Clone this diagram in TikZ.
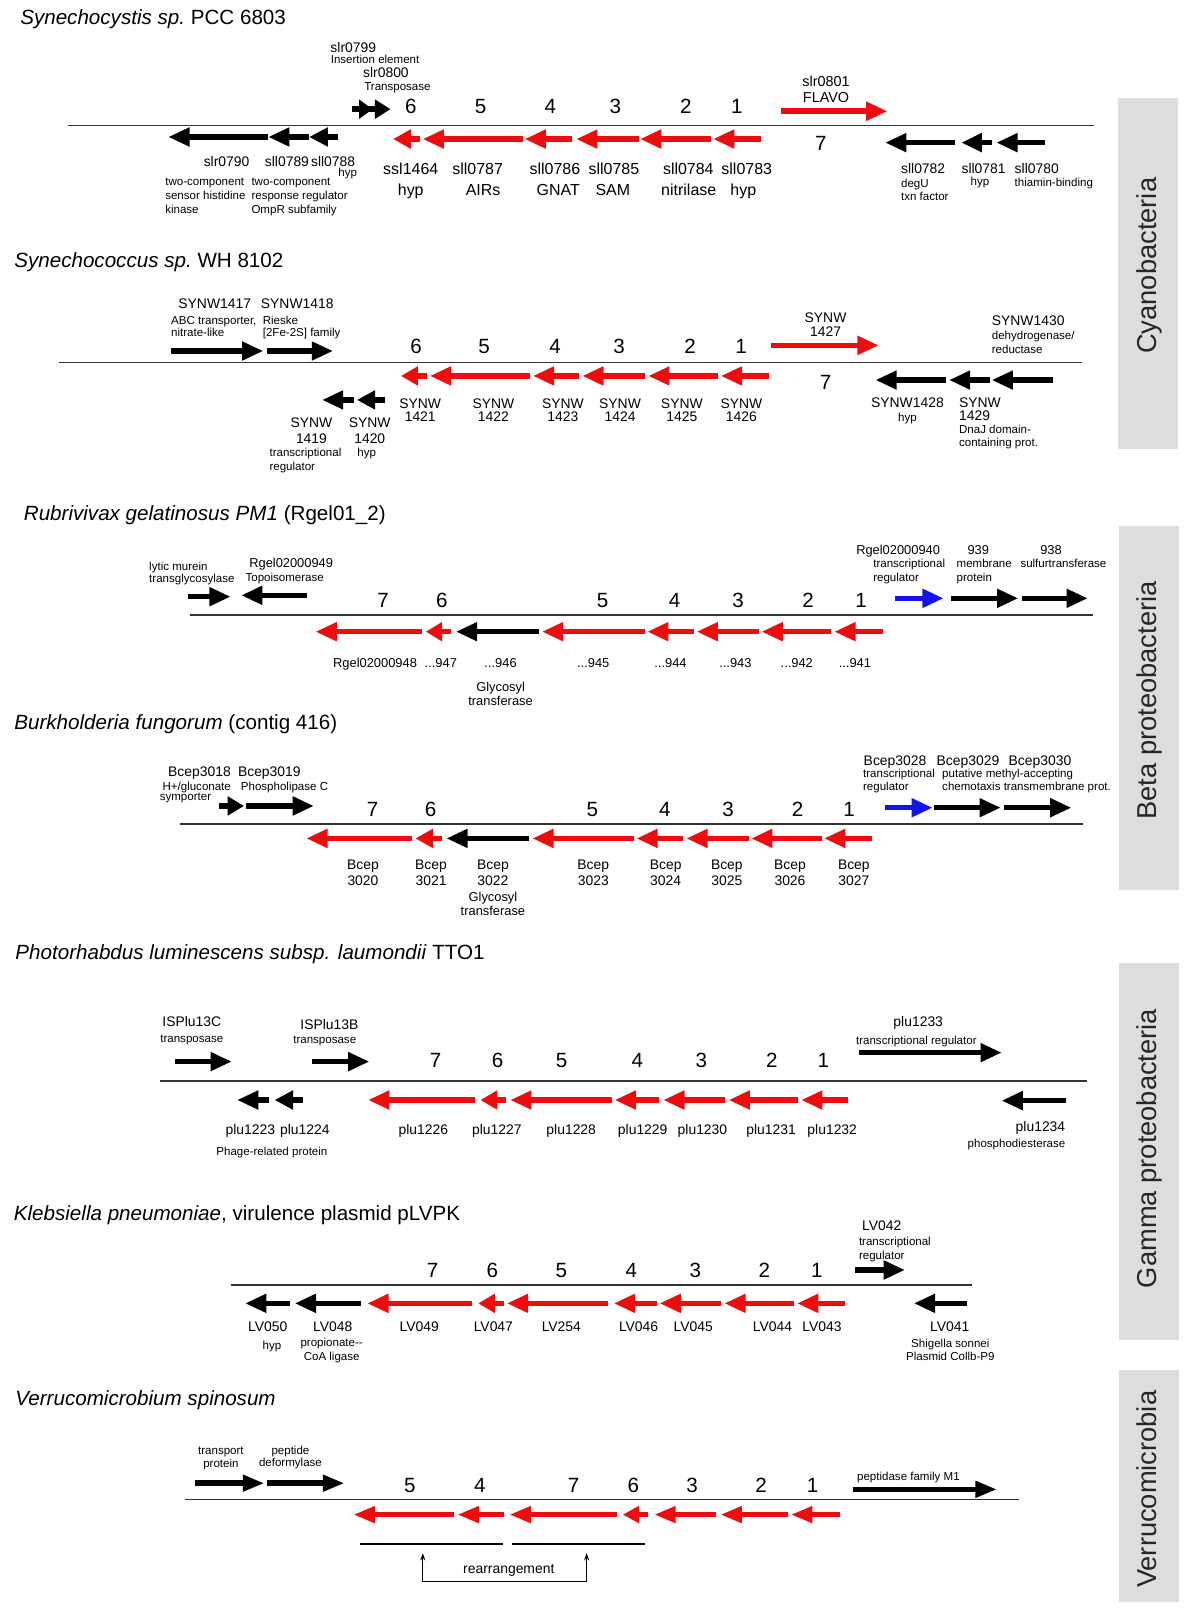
\documentclass[tikz,border=0pt]{standalone}
\usepackage{fontspec}
\setmainfont{Liberation Sans}
\usetikzlibrary{arrows.meta}
\definecolor{gred}{RGB}{240,12,12}
\definecolor{gblue}{RGB}{20,20,235}
\definecolor{sidegray}{RGB}{221,221,221}
\def\gw{2.7}
\def\gh{9.5}
\newcommand\gene[4]{%
  \pgfmathsetmacro\gL{(#4)-(#3)}%
  \pgfmathsetmacro\gH{sign(\gL)*min(20,0.65*abs(\gL))}%
  \pgfmathsetmacro\gB{(#4)-\gH}%
  \pgfmathsetmacro\gS{(#4)-0.5*\gH}%
  \fill[#1] (#3,#2-\gw) rectangle (\gS,#2+\gw);
  \fill[#1] (#4,#2) -- (\gB,#2-\gh) -- (\gB,#2+\gh) -- cycle;
}
\tikzset{
  sm/.style={inner sep=0pt, font=\fontsize{11.2}{13}\selectfont, text height=8.1pt, text depth=0pt},
  mdc/.style={inner sep=0pt, font=\fontsize{12.5}{15}\selectfont, text height=9pt, text depth=0pt},
  md/.style={inner sep=0pt, font=\fontsize{13.5}{16}\selectfont, text height=9.7pt, text depth=0pt},
  mdl/.style={inner sep=0pt, font=\fontsize{14}{17}\selectfont, text height=10.1pt, text depth=0pt},
  big/.style={inner sep=0pt, font=\fontsize{15.5}{18}\selectfont, text height=11.2pt, text depth=0pt},
  num/.style={inner sep=0pt, font=\fontsize{20}{24}\selectfont, text height=14.4pt, text depth=0pt},
  ttl/.style={inner sep=0pt, anchor=west, font=\fontsize{20}{24}\selectfont, text height=14.4pt, text depth=0pt},
  sidelbl/.style={inner sep=0pt, rotate=90, font=\fontsize{26.5}{30}\selectfont, text height=19pt, text depth=0pt, text=black!85},
  axisline/.style={line width=1.3pt, black!80},
  bracket/.style={line width=2pt, black},
  conn/.style={line width=1pt, {Stealth[length=7pt,width=5pt]}-{Stealth[length=7pt,width=5pt]}},
}
\begin{document}
\begin{tikzpicture}[x=1pt,y=-1pt]
\useasboundingbox (0,0) rectangle (1165,1568);
\fill[white] (0,0) rectangle (1165,1568);

% ---------- side boxes ----------
\fill[sidegray] (1085.5,95.5) rectangle (1143.5,436);
\node[sidelbl] (sideA) at (1113,258) {Cyanobacteria};
\fill[sidegray] (1086,511) rectangle (1144.5,864);
\node[sidelbl] (sideB) at (1113,680) {Beta proteobacteria};
\fill[sidegray] (1086,935) rectangle (1144.5,1301);
\node[sidelbl] (sideC) at (1113,1115) {Gamma proteobacteria};
\fill[sidegray] (1086,1330) rectangle (1144.5,1555);
\node[sidelbl] (sideD) at (1113,1446) {Verrucomicrobia};

% ---------- 1 Synechocystis ----------
\node[ttl] (aT) at (19.5,16.5) {\textit{Synechocystis sp.}\ PCC 6803};
\draw[axisline] (66,122) -- (1062,122);
\node[num] (a6) at (399,103) {6};
\node[num] (a5) at (466.7,103) {5};
\node[num] (a4) at (534.3,103) {4};
\node[num] (a3) at (597.4,103) {3};
\node[num] (a2) at (666,103) {2};
\node[num] (a1) at (715.3,103) {1};
\node[num] (a7) at (797,138.5) {7};
\gene{black}{106}{341.5}{361.7}
\gene{black}{106}{356}{379}
\gene{black}{133}{260}{164}
\gene{black}{133}{300}{261}
\gene{black}{133}{328}{300.5}
\gene{gred}{135}{408}{382}
\gene{gred}{135}{508}{411}
\gene{gred}{135}{555}{510}
\gene{gred}{135}{620}{560}
\gene{gred}{135}{690}{622}
\gene{gred}{135}{739}{693}
\gene{gred}{108}{758}{861}
\gene{black}{138.5}{927}{860}
\gene{black}{138.5}{963.5}{934}
\gene{black}{138.5}{1014.6}{968}
\node[md] (aL1) at (343,46.3) {slr0799};
\node[sm,anchor=west] (aL2) at (321,57.6) {Insertion element};
\node[md] (aL3) at (374.7,70.6) {slr0800};
\node[sm,anchor=west] (aL4) at (353.5,84.2) {Transposase};
\node[mdl] (aL5) at (802,79.3) {slr0801};
\node[mdl] (aL6) at (802,94.5) {FLAVO};
\node[md] (aL7) at (220,157) {slr0790};
\node[md] (aL8) at (278.6,157) {sll0789};
\node[md] (aL9) at (323.4,157) {sll0788};
\node[sm] (aL10) at (337.6,167.7) {hyp};
\node[sm,anchor=west] (aL11) at (160.3,176.4) {two-component};
\node[sm,anchor=west] (aL12) at (160.3,189.3) {sensor histidine};
\node[sm,anchor=west] (aL13) at (160.3,202.9) {kinase};
\node[sm,anchor=west] (aL14) at (244,176.4) {two-component};
\node[sm,anchor=west] (aL15) at (244,189.3) {response regulator};
\node[sm,anchor=west] (aL16) at (244,202.9) {OmpR subfamily};
\node[big] (aL17) at (398.8,163.4) {ssl1464};
\node[big] (aL18) at (398.8,184.5) {hyp};
\node[big] (aL19) at (463.7,163.4) {sll0787};
\node[big] (aL20) at (469,184.5) {AIRs};
\node[big] (aL21) at (538.7,163.4) {sll0786};
\node[big] (aL22) at (542,184.5) {GNAT};
\node[big] (aL23) at (596,163.4) {sll0785};
\node[big] (aL24) at (595,184.5) {SAM};
\node[big] (aL25) at (668.3,163.4) {sll0784};
\node[big] (aL26) at (668.7,184.5) {nitrilase};
\node[big] (aL27) at (725,163.4) {sll0783};
\node[big] (aL28) at (721.7,184.5) {hyp};
\node[md,anchor=west] (aL29) at (874.7,163.4) {sll0782};
\node[sm,anchor=west] (aL30) at (874.7,178) {degU};
\node[sm,anchor=west] (aL31) at (874.7,191) {txn factor};
\node[md] (aL32) at (955,163.4) {sll0781};
\node[sm] (aL33) at (951.5,176.4) {hyp};
\node[md,anchor=west] (aL34) at (985,163.4) {sll0780};
\node[sm,anchor=west] (aL35) at (985,177.4) {thiamin-binding};

% ---------- 2 Synechococcus ----------
\node[ttl] (bT) at (13.7,252.4) {\textit{Synechococcus sp.}\ WH 8102};
\draw[axisline] (57,351.8) -- (1050.5,351.8);
\node[num] (b6) at (404,336) {6};
\node[num] (b5) at (470,336) {5};
\node[num] (b4) at (539,336) {4};
\node[num] (b3) at (601,336) {3};
\node[num] (b2) at (670,336) {2};
\node[num] (b1) at (719.5,336) {1};
\node[num] (b7) at (801.5,370.6) {7};
\gene{black}{340.8}{166}{255}
\gene{black}{340.8}{259}{322.7}
\gene{gred}{365}{414.4}{389.6}
\gene{gred}{365}{515}{418}
\gene{gred}{365}{562}{518}
\gene{gred}{365}{626}{566}
\gene{gred}{365}{697}{630}
\gene{gred}{365}{746.6}{700.5}
\gene{gred}{335.3}{748.5}{852.5}
\gene{black}{388.3}{344}{313.3}
\gene{black}{388.3}{373.6}{346.9}
\gene{black}{369}{918.3}{850.6}
\gene{black}{369}{961}{922}
\gene{black}{369}{1022}{963.5}
\node[md] (bL1) at (208.5,294.5) {SYNW1417};
\node[sm,anchor=west] (bL2) at (166,310.7) {ABC transporter,};
\node[sm,anchor=west] (bL3) at (166,322.6) {nitrate-like};
\node[md] (bL4) at (288.6,294.5) {SYNW1418};
\node[sm,anchor=west] (bL5) at (255,310.7) {Rieske};
\node[sm,anchor=west] (bL6) at (255,322.6) {[2Fe-2S] family};
\node[md] (bL7) at (801.5,308) {SYNW};
\node[md] (bL8) at (801.5,321.4) {1427};
\node[md] (bL9) at (302.4,410.3) {SYNW};
\node[md] (bL10) at (302.4,425.6) {1419};
\node[sm,anchor=west] (bL11) at (261.5,439.5) {transcriptional};
\node[sm,anchor=west] (bL12) at (261.5,453) {regulator};
\node[md] (bL13) at (359,410.3) {SYNW};
\node[md] (bL14) at (359,425.6) {1420};
\node[sm] (bL15) at (356,439.5) {hyp};
\node[md] (bL16) at (408,391.6) {SYNW};
\node[md] (bL17) at (408,404.5) {1421};
\node[md] (bL18) at (479,391.6) {SYNW};
\node[md] (bL19) at (479,404.5) {1422};
\node[md] (bL20) at (546.5,391.6) {SYNW};
\node[md] (bL21) at (546.5,404.5) {1423};
\node[md] (bL22) at (602,391.6) {SYNW};
\node[md] (bL23) at (602,404.5) {1424};
\node[md] (bL24) at (662,391.6) {SYNW};
\node[md] (bL25) at (662,404.5) {1425};
\node[md] (bL26) at (719.8,391.6) {SYNW};
\node[md] (bL27) at (719.8,404.5) {1426};
\node[md] (bL28) at (881,390.6) {SYNW1428};
\node[sm] (bL29) at (881,405.5) {hyp};
\node[md,anchor=west] (bL30) at (931,390.6) {SYNW};
\node[md,anchor=west] (bL31) at (931,403) {1429};
\node[sm,anchor=west] (bL32) at (931,416.8) {DnaJ domain-};
\node[sm,anchor=west] (bL33) at (931,429.8) {containing prot.};
\node[md,anchor=west] (bL34) at (962.8,311.3) {SYNW1430};
\node[sm,anchor=west] (bL35) at (962.8,326) {dehydrogenase/};
\node[sm,anchor=west] (bL36) at (962.8,338.8) {reductase};

% ---------- 3 Rubrivivax ----------
\node[ttl] (cT) at (23,498.4) {\textit{Rubrivivax gelatinosus PM1}\ (Rgel01\_2)};
\draw[axisline] (184.3,597) -- (1061,597);
\node[num] (c7) at (372,582.5) {7};
\node[num] (c6) at (429,582.5) {6};
\node[num] (c5) at (585,582.5) {5};
\node[num] (c4) at (655,582.5) {4};
\node[num] (c3) at (716.5,582.5) {3};
\node[num] (c2) at (784.5,582.5) {2};
\node[num] (c1) at (836,582.5) {1};
\gene{black}{579.3}{182.5}{223.3}
\gene{black}{578}{297.9}{234.8}
\gene{gred}{613.3}{410}{307}
\gene{gred}{613.3}{437.8}{413.6}
\gene{black}{613.3}{523}{443.3}
\gene{gred}{613.3}{626}{526.8}
\gene{gred}{613.3}{673.4}{629}
\gene{gred}{613.3}{736.5}{677}
\gene{gred}{613.3}{806.8}{740}
\gene{gred}{613.3}{857}{810.7}
\gene{gblue}{580.9}{869}{915.6}
\gene{black}{580.9}{923}{988}
\gene{black}{580.9}{992.5}{1055.5}
\node[sm,anchor=west] (cL1) at (144.7,550) {lytic murein};
\node[sm,anchor=west] (cL2) at (144.7,561.5) {transglycosylase};
\node[mdc] (cL3) at (282.7,546.3) {Rgel02000949};
\node[sm] (cL4) at (276.4,560.5) {Topoisomerase};
\node[mdc,anchor=east] (cL5) at (405,644) {Rgel02000948};
\node[mdc] (cL6) at (428,644) {...947};
\node[mdc] (cL7) at (486,644) {...946};
\node[mdc] (cL8) at (576,644) {...945};
\node[mdc] (cL9) at (651,644) {...944};
\node[mdc] (cL10) at (714,644) {...943};
\node[mdc] (cL11) at (773.6,644) {...942};
\node[mdc] (cL12) at (830,644) {...941};
\node[mdc] (cL13) at (486,666.7) {Glycosyl};
\node[mdc] (cL14) at (486,680.3) {transferase};
\node[mdc] (cL15) at (872,534) {Rgel02000940};
\node[sm,anchor=west] (cL16) at (847.7,547) {transcriptional};
\node[sm,anchor=west] (cL17) at (847.7,560.5) {regulator};
\node[mdc] (cL18) at (949.8,534) {939};
\node[sm,anchor=west] (cL19) at (928.6,547) {membrane};
\node[sm,anchor=west] (cL20) at (928.6,560.5) {protein};
\node[mdc] (cL21) at (1020.4,534) {938};
\node[sm] (cL22) at (1032.5,547) {sulfurtransferase};

% ---------- 4 Burkholderia ----------
\node[ttl] (dT) at (13.7,700.6) {\textit{Burkholderia fungorum}\ (contig 416)};
\draw[axisline] (174.4,800) -- (1051,800);
\node[num] (d7) at (361.7,785.7) {7};
\node[num] (d6) at (418,785.7) {6};
\node[num] (d5) at (575,785.7) {5};
\node[num] (d4) at (645.6,785.7) {4};
\node[num] (d3) at (706.8,785.7) {3};
\node[num] (d2) at (774.4,785.7) {2};
\node[num] (d1) at (824.3,785.7) {1};
\gene{black}{782.5}{212.6}{236.7}
\gene{black}{782.5}{239.3}{304.2}
\gene{gred}{814}{400}{298}
\gene{gred}{814}{429.6}{403.6}
\gene{black}{814}{513.8}{434}
\gene{gred}{814}{616}{517.5}
\gene{gred}{814}{663.4}{618.5}
\gene{gred}{814}{727}{667}
\gene{gred}{814}{797.7}{730}
\gene{gred}{814}{846.6}{800.7}
\gene{gblue}{784.2}{859}{905}
\gene{black}{784.2}{906.4}{971}
\gene{black}{784.2}{975}{1039.6}
\node[md] (dL1) at (193.7,749) {Bcep3018};
\node[sm] (dL2) at (191,763) {H+/gluconate};
\node[sm,anchor=west] (dL3) at (155,773.5) {symporter};
\node[md] (dL4) at (261.5,749) {Bcep3019};
\node[sm,anchor=west] (dL5) at (233.7,763.8) {Phospholipase C};
\node[md] (dL6) at (352.4,839.8) {Bcep};
\node[md] (dL7) at (352.4,854.4) {3020};
\node[md] (dL8) at (418.5,839.8) {Bcep};
\node[md] (dL9) at (418.5,854.4) {3021};
\node[md] (dL10) at (478.6,839.8) {Bcep};
\node[md] (dL11) at (478.6,854.4) {3022};
\node[mdc] (dL12) at (478.6,870.6) {Glycosyl};
\node[mdc] (dL13) at (478.6,884.5) {transferase};
\node[md] (dL14) at (576,839.8) {Bcep};
\node[md] (dL15) at (576,854.4) {3023};
\node[md] (dL16) at (646.3,839.8) {Bcep};
\node[md] (dL17) at (646.3,854.4) {3024};
\node[md] (dL18) at (705.7,839.8) {Bcep};
\node[md] (dL19) at (705.7,854.4) {3025};
\node[md] (dL20) at (767,839.8) {Bcep};
\node[md] (dL21) at (767,854.4) {3026};
\node[md] (dL22) at (829,839.8) {Bcep};
\node[md] (dL23) at (829,854.4) {3027};
\node[md] (dL24) at (869,737.9) {Bcep3028};
\node[sm,anchor=west] (dL25) at (837.8,750.8) {transcriptional};
\node[sm,anchor=west] (dL26) at (837.8,763.8) {regulator};
\node[md] (dL27) at (939.8,737.9) {Bcep3029};
\node[md] (dL28) at (1009.7,737.9) {Bcep3030};
\node[sm,anchor=west] (dL29) at (914.6,750.8) {putative methyl-accepting};
\node[sm,anchor=west] (dL30) at (914.6,763.8) {chemotaxis transmembrane prot.};

% ---------- 5 Photorhabdus ----------
\node[ttl] (eT) at (14.8,924) {\textit{Photorhabdus luminescens subsp. laumondii}\ TTO1};
\draw[axisline] (155,1049.5) -- (1055,1049.5);
\node[num] (e7) at (423,1029) {7};
\node[num] (e6) at (483,1029) {6};
\node[num] (e5) at (545.3,1029) {5};
\node[num] (e4) at (618.8,1029) {4};
\node[num] (e3) at (681,1029) {3};
\node[num] (e2) at (749.5,1029) {2};
\node[num] (e1) at (799.5,1029) {1};
\gene{black}{1030.7}{169.5}{224.4}
\gene{black}{1030.7}{303}{358}
\gene{black}{1068}{261.5}{230.8}
\gene{black}{1068}{294}{267}
\gene{gred}{1068}{461}{358}
\gene{gred}{1068}{491.6}{466.7}
\gene{gred}{1068}{593.7}{496}
\gene{gred}{1068}{640}{597.4}
\gene{gred}{1068}{704}{644.6}
\gene{gred}{1068}{774.8}{708}
\gene{gred}{1068}{823.7}{778.5}
\gene{black}{1022}{834}{972}
\gene{black}{1068.6}{1035}{973}
\node[md] (eL1) at (186.2,991.9) {ISPlu13C};
\node[sm] (eL2) at (186.2,1008) {transposase};
\node[md] (eL3) at (319.8,995) {ISPlu13B};
\node[sm] (eL4) at (315.3,1009) {transposase};
\node[md] (eL5) at (243,1096.4) {plu1223};
\node[md] (eL6) at (296,1096.4) {plu1224};
\node[md] (eL7) at (411,1096.4) {plu1226};
\node[md] (eL8) at (482.3,1096.4) {plu1227};
\node[md] (eL9) at (554.6,1096.4) {plu1228};
\node[md] (eL10) at (624,1096.4) {plu1229};
\node[md] (eL11) at (682,1096.4) {plu1230};
\node[md] (eL12) at (748.7,1096.4) {plu1231};
\node[md] (eL13) at (808,1096.4) {plu1232};
\node[sm] (eL14) at (264,1118) {Phage-related protein};
\node[md] (eL15) at (891.5,992) {plu1233};
\node[sm] (eL16) at (889.7,1009.7) {transcriptional regulator};
\node[md,anchor=east] (eL17) at (1034.4,1093.9) {plu1234};
\node[sm,anchor=east] (eL18) at (1034.4,1110) {phosphodiesterase};

% ---------- 6 Klebsiella ----------
\node[ttl] (fT) at (13.3,1178) {\textit{Klebsiella pneumoniae}, virulence plasmid pLVPK};
\draw[axisline] (224,1247.6) -- (944,1247.6);
\node[num] (f7) at (420,1233) {7};
\node[num] (f6) at (478,1233) {6};
\node[num] (f5) at (545,1233) {5};
\node[num] (f4) at (613,1233) {4};
\node[num] (f3) at (675,1233) {3};
\node[num] (f2) at (742,1233) {2};
\node[num] (f1) at (793,1233) {1};
\gene{black}{1233}{830}{878}
\gene{black}{1265.4}{281.6}{238.6}
\gene{black}{1265.4}{350.5}{286.8}
\gene{gred}{1265.4}{458}{357.2}
\gene{gred}{1265.4}{489}{464.7}
\gene{gred}{1265.4}{590.7}{492.8}
\gene{gred}{1265.4}{637.4}{596.6}
\gene{gred}{1265.4}{700.4}{641}
\gene{gred}{1265.4}{770.8}{704}
\gene{gred}{1265.4}{820.4}{774.5}
\gene{black}{1265.4}{939}{887.9}
\node[md] (fL1) at (856,1190) {LV042};
\node[sm,anchor=west] (fL2) at (833.8,1205) {transcriptional};
\node[sm,anchor=west] (fL3) at (833.8,1218.4) {regulator};
\node[md] (fL4) at (260,1288) {LV050};
\node[sm] (fL5) at (264,1305.8) {hyp};
\node[md] (fL6) at (323,1288) {LV048};
\node[sm] (fL7) at (322,1303.6) {propionate-{}-};
\node[sm] (fL8) at (322,1316.5) {CoA ligase};
\node[md] (fL9) at (407,1288) {LV049};
\node[md] (fL10) at (479,1288) {LV047};
\node[md] (fL11) at (545,1288) {LV254};
\node[md] (fL12) at (620,1288) {LV046};
\node[md] (fL13) at (673,1288) {LV045};
\node[md] (fL14) at (750,1288) {LV044};
\node[md] (fL15) at (798,1288) {LV043};
\node[md] (fL16) at (922,1288) {LV041};
\node[sm] (fL17) at (922.7,1304) {Shigella sonnei};
\node[sm] (fL18) at (922.7,1317) {Plasmid Collb-P9};

% ---------- 7 Verrucomicrobium ----------
\node[ttl] (gT) at (14.8,1357.6) {\textit{Verrucomicrobium spinosum}};
\draw[axisline] (180,1456) -- (989.5,1456);
\node[num] (g5) at (398,1442) {5};
\node[num] (g4) at (466,1442) {4};
\node[num] (g7) at (557,1442) {7};
\node[num] (g6) at (615,1442) {6};
\node[num] (g3) at (672,1442) {3};
\node[num] (g2) at (739,1442) {2};
\node[num] (g1) at (789,1442) {1};
\def\gh{8.5}
\gene{black}{1440}{189}{255.7}
\gene{black}{1440}{259}{333.5}
\gene{black}{1446}{828.6}{967}
\gene{gred}{1470.5}{441}{344}
\gene{gred}{1470.5}{489.5}{445}
\gene{gred}{1470.5}{599.5}{495.5}
\gene{gred}{1470.5}{628.7}{605}
\gene{gred}{1470.5}{694.7}{636}
\gene{gred}{1470.5}{765.3}{700.3}
\gene{gred}{1470.5}{815.5}{768.8}
\node[sm] (gL1) at (214.5,1408.5) {transport};
\node[sm] (gL2) at (214.5,1420.5) {protein};
\node[sm] (gL3) at (282,1407.8) {peptide};
\node[sm] (gL4) at (282,1420) {deformylase};
\node[sm] (gL5) at (882,1433) {peptidase family M1};
\draw[bracket] (350,1499.5) -- (488,1499.5);
\draw[bracket] (497.5,1499.5) -- (626.5,1499.5);
\coordinate (rA) at (410.5,1508);
\coordinate (rB) at (410.5,1535.5);
\coordinate (rC) at (569.6,1535.5);
\coordinate (rD) at (569.6,1508);
\draw[conn] (rA) -- (rB) -- (rC) -- (rD);
\node[md] (gL6) at (494,1522.5) {rearrangement};
\end{tikzpicture}
\end{document}
